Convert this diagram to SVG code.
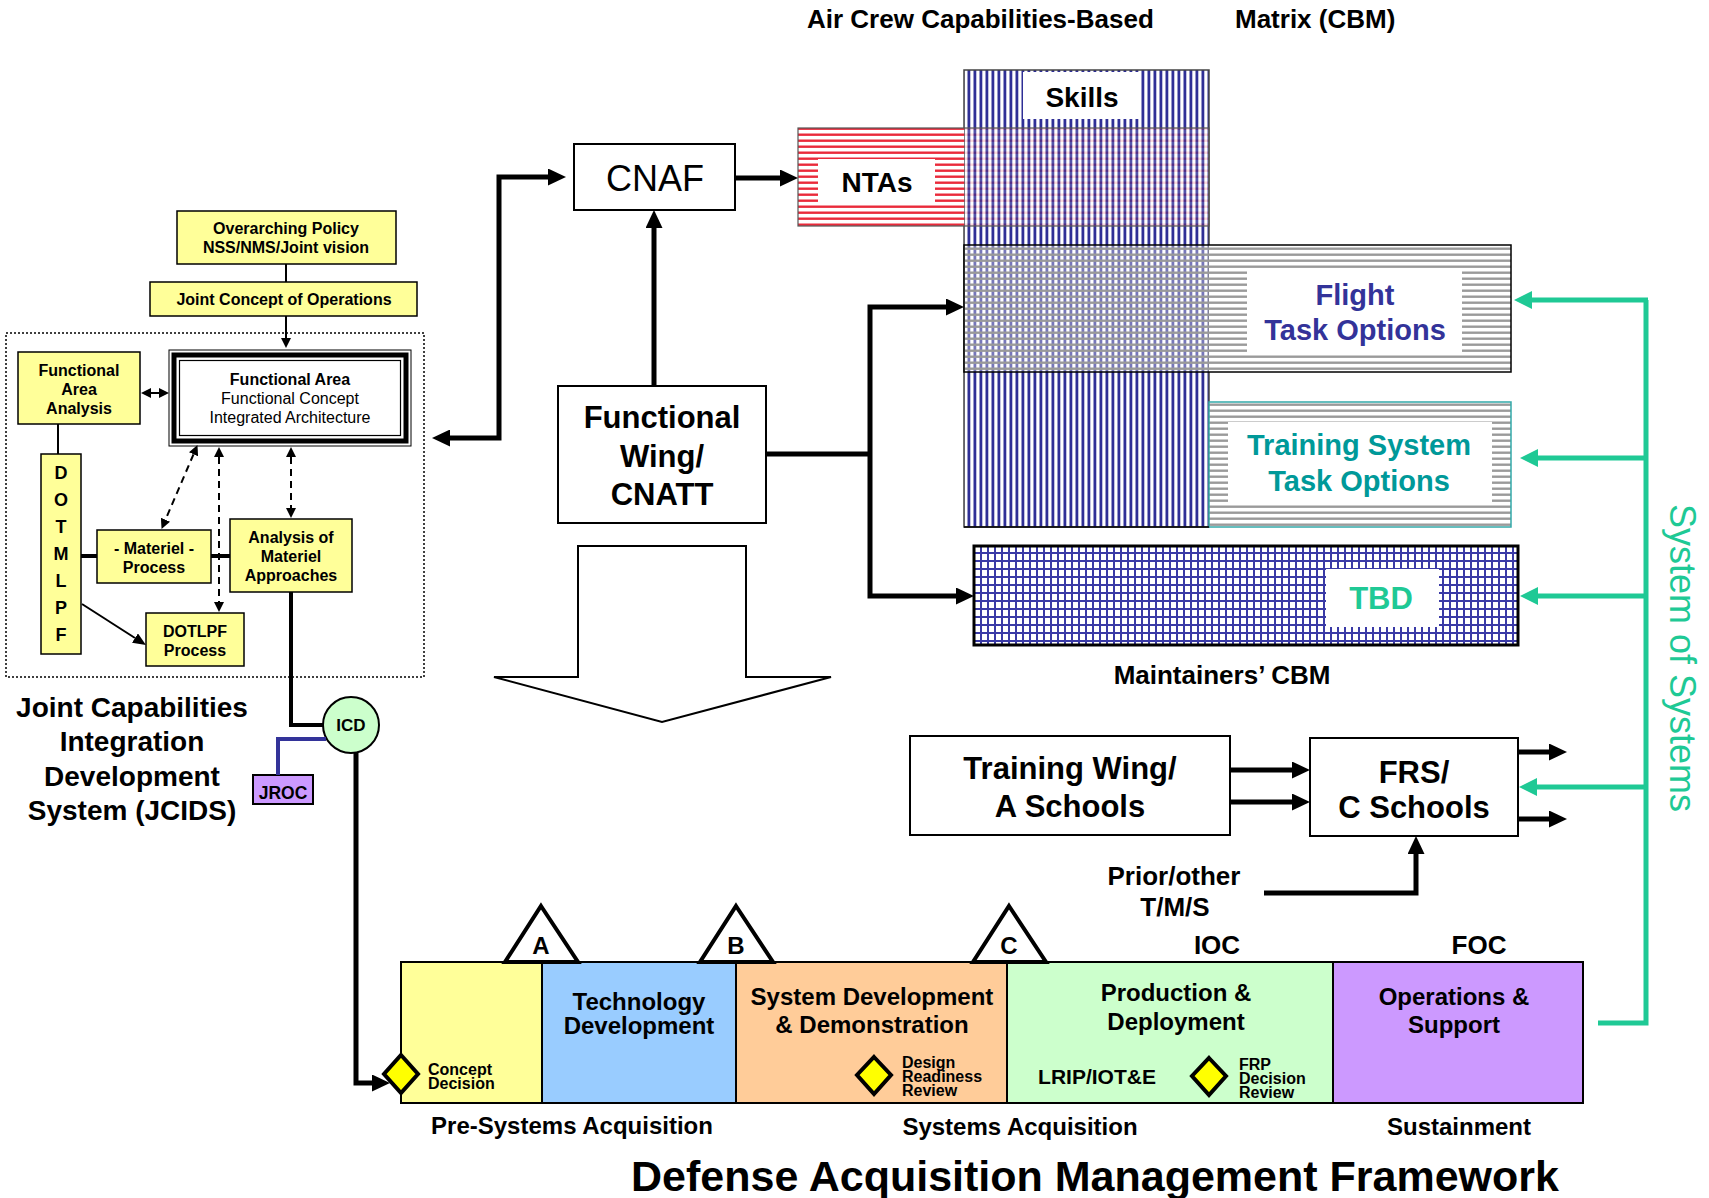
<svg xmlns="http://www.w3.org/2000/svg" width="1709" height="1198" viewBox="0 0 1709 1198">
<defs>
<style>
text { font-family: "Liberation Sans", Arial, Helvetica, sans-serif; fill: #000; }
.b { font-weight: bold; }
.c { text-anchor: middle; }
.box { fill: #ffff99; stroke: #000; stroke-width: 1.5; }
.wbox { fill: #fff; stroke: #000; stroke-width: 2; }
.thick { fill: none; stroke: #000; stroke-width: 5; }
.mid { fill: none; stroke: #000; stroke-width: 4; }
.thin { fill: none; stroke: #000; stroke-width: 2; }
.dash { fill: none; stroke: #000; stroke-width: 2; stroke-dasharray: 7 5; }
.green { fill: none; stroke: #1fc995; stroke-width: 5; }
.seg { stroke: #000; stroke-width: 2; }
.ms { fill: #fff; stroke: #000; stroke-width: 4; stroke-linejoin: miter; }
.dia { fill: #ffff00; stroke: #000; stroke-width: 4; }
</style>
<pattern id="pRed" width="6" height="6" patternUnits="userSpaceOnUse">
  <rect width="6" height="6" fill="#fff"/>
  <rect y="1.5" width="6" height="2.4" fill="#ea2a3a"/>
</pattern>
<pattern id="pBlueV" width="6" height="6" patternUnits="userSpaceOnUse">
  <rect x="1.5" width="2.8" height="6" fill="#2f2f96"/>
</pattern>
<pattern id="pGray" width="6" height="6" patternUnits="userSpaceOnUse">
  <rect y="1.5" width="6" height="2.4" fill="#9a9a9a"/>
</pattern>
<pattern id="pGrid" width="7" height="8" patternUnits="userSpaceOnUse">
  <rect width="7" height="8" fill="#fff"/>
  <rect width="2" height="8" fill="#3a3aa6"/>
  <rect width="7" height="2" fill="#3a3aa6"/>
</pattern>
<marker id="ah" markerWidth="18" markerHeight="17" refX="0" refY="8.5" orient="auto-start-reverse" markerUnits="userSpaceOnUse">
  <path d="M0,0 L18,8.5 L0,17 z" fill="#000"/>
</marker>
<marker id="ahG" markerWidth="18" markerHeight="18" refX="0" refY="9" orient="auto-start-reverse" markerUnits="userSpaceOnUse">
  <path d="M0,0 L18,9 L0,18 z" fill="#1fc995"/>
</marker>
<marker id="ahS" markerWidth="10" markerHeight="10" refX="0" refY="5" orient="auto-start-reverse" markerUnits="userSpaceOnUse">
  <path d="M0,0 L10,5 L0,10 z" fill="#000"/>
</marker>
<marker id="ahM" markerWidth="13" markerHeight="11" refX="0" refY="5.5" orient="auto-start-reverse" markerUnits="userSpaceOnUse">
  <path d="M0,0 L13,5.5 L0,11 z" fill="#000"/>
</marker>
</defs>

<rect width="1709" height="1198" fill="#fff"/>

<!-- heading over the air crew matrix -->
<text class="b" x="807" y="28" font-size="26">Air Crew Capabilities-Based</text>
<text class="b" x="1235" y="28" font-size="26">Matrix (CBM)</text>

<!-- JCIDS area -->
<g id="jcids-frame">
  <rect x="6" y="333" width="418" height="344" fill="none" stroke="#000" stroke-width="1.5" stroke-dasharray="2 2"/>
</g>
<g id="overarching-policy">
  <rect class="box" x="177" y="211" width="219" height="53"/>
  <text class="b c" x="286" y="234" font-size="16">Overarching Policy</text>
  <text class="b c" x="286" y="253" font-size="16">NSS/NMS/Joint vision</text>
</g>
<g id="joint-concept">
  <rect class="box" x="150" y="282" width="267" height="34"/>
  <text class="b c" x="284" y="305" font-size="16">Joint Concept of Operations</text>
</g>
<g id="functional-area">
  <rect x="169" y="350" width="242" height="96" fill="#fff" stroke="#000" stroke-width="1"/>
  <rect x="174" y="355" width="232" height="86" fill="none" stroke="#000" stroke-width="5"/>
  <rect x="179.5" y="360.5" width="221" height="75" fill="none" stroke="#000" stroke-width="1.2"/>
  <text class="b c" x="290" y="385" font-size="16">Functional Area</text>
  <text class="c" x="290" y="404" font-size="16">Functional Concept</text>
  <text class="c" x="290" y="423" font-size="16">Integrated Architecture</text>
</g>
<g id="functional-area-analysis">
  <rect class="box" x="18" y="352" width="122" height="72"/>
  <text class="b c" x="79" y="376" font-size="16">Functional</text>
  <text class="b c" x="79" y="395" font-size="16">Area</text>
  <text class="b c" x="79" y="414" font-size="16">Analysis</text>
</g>
<g id="dotmlpf">
  <rect class="box" x="41" y="454" width="40" height="200"/>
  <text class="b c" x="61" y="479" font-size="18">D</text>
  <text class="b c" x="61" y="506" font-size="18">O</text>
  <text class="b c" x="61" y="533" font-size="18">T</text>
  <text class="b c" x="61" y="560" font-size="18">M</text>
  <text class="b c" x="61" y="587" font-size="18">L</text>
  <text class="b c" x="61" y="614" font-size="18">P</text>
  <text class="b c" x="61" y="641" font-size="18">F</text>
</g>
<g id="materiel-process">
  <rect class="box" x="97" y="530" width="114" height="53"/>
  <text class="b c" x="154" y="554" font-size="16">- Materiel -</text>
  <text class="b c" x="154" y="573" font-size="16">Process</text>
</g>
<g id="analysis-materiel">
  <rect class="box" x="230" y="519" width="122" height="73"/>
  <text class="b c" x="291" y="543" font-size="16">Analysis of</text>
  <text class="b c" x="291" y="562" font-size="16">Materiel</text>
  <text class="b c" x="291" y="581" font-size="16">Approaches</text>
</g>
<g id="dotlpf-process">
  <rect class="box" x="146" y="613" width="98" height="53"/>
  <text class="b c" x="195" y="637" font-size="16">DOTLPF</text>
  <text class="b c" x="195" y="656" font-size="16">Process</text>
</g>
<g id="jcids-title">
  <text class="b c" x="132" y="717" font-size="28">Joint Capabilities</text>
  <text class="b c" x="132" y="751" font-size="28">Integration</text>
  <text class="b c" x="132" y="786" font-size="28">Development</text>
  <text class="b c" x="132" y="820" font-size="28">System (JCIDS)</text>
</g>
<g id="icd">
  <circle cx="351" cy="725" r="28" fill="#ccffcc" stroke="#000" stroke-width="2"/>
  <text class="b c" x="351" y="731" font-size="17">ICD</text>
</g>
<g id="jroc">
  <rect x="253" y="775" width="60" height="29" fill="#cc99ff" stroke="#000" stroke-width="2"/>
  <text class="b c" x="283" y="799" font-size="17.5">JROC</text>
</g>

<!-- command boxes -->
<g id="cnaf">
  <rect class="wbox" x="574" y="144" width="161" height="66"/>
  <text class="c" x="655" y="191" font-size="36">CNAF</text>
</g>
<g id="functional-wing">
  <rect class="wbox" x="558" y="386" width="208" height="137"/>
  <text class="b c" x="662" y="428" font-size="31">Functional</text>
  <text class="b c" x="662" y="467" font-size="31">Wing/</text>
  <text class="b c" x="662" y="505" font-size="31">CNATT</text>
</g>
<g id="flow-arrow">
  <polygon points="578,546 746,546 746,677 831,677 662,722 494,677 578,677" fill="#fff" stroke="#000" stroke-width="2"/>
</g>

<!-- capabilities-based matrix -->
<g id="skills">
  <rect x="964" y="70" width="245" height="457" fill="#fff"/>
  <rect x="964" y="70" width="245" height="457" fill="url(#pBlueV)" stroke="#444" stroke-width="1.5"/>
</g>
<g id="ntas">
  <rect x="798" y="128" width="166" height="98" fill="url(#pRed)"/>
  <rect x="964" y="128" width="245" height="98" fill="url(#pRed)" opacity="0.18"/>
  <rect x="798" y="128" width="411" height="98" fill="none" stroke="#555" stroke-width="1.2"/>
  <rect x="818" y="159" width="117" height="44" fill="#fff"/>
  <text class="b c" x="877" y="192" font-size="28">NTAs</text>
</g>
<g id="skills-label">
  <rect x="1023" y="72" width="117" height="47" fill="#fff"/>
  <text class="b c" x="1082" y="107" font-size="28">Skills</text>
</g>
<g id="flight-task-options">
  <rect x="1209" y="245" width="302" height="127" fill="#fff"/>
  <rect x="964" y="245" width="245" height="127" fill="#fff" opacity="0.35"/>
  <rect x="964" y="245" width="547" height="127" fill="url(#pGray)" stroke="#000" stroke-width="1.5"/>
  <rect x="1247" y="271" width="215" height="82" fill="#fff"/>
  <text class="b c" x="1355" y="305" font-size="29" style="fill:#333399">Flight</text>
  <text class="b c" x="1355" y="340" font-size="29" style="fill:#333399">Task Options</text>
</g>
<g id="training-system-task-options">
  <rect x="1209" y="402" width="302" height="125" fill="#fff"/>
  <rect x="1209" y="402" width="302" height="125" fill="url(#pGray)" stroke="#33a9a9" stroke-width="1.5"/>
  <rect x="1228" y="422" width="264" height="80" fill="#fff"/>
  <text class="b c" x="1359" y="455" font-size="29" style="fill:#009999">Training System</text>
  <text class="b c" x="1359" y="491" font-size="29" style="fill:#009999">Task Options</text>
  <line x1="964" y1="527" x2="1209" y2="527" stroke="#000" stroke-width="1.5"/>
</g>
<g id="tbd">
  <rect x="974" y="546" width="544" height="99" fill="url(#pGrid)" stroke="#000" stroke-width="3"/>
  <rect x="1326" y="569" width="113" height="58" fill="#fff"/>
  <text class="b c" x="1381" y="609" font-size="31" style="fill:#1fc995">TBD</text>
</g>
<text class="b c" x="1222" y="684" font-size="26">Maintainers’ CBM</text>

<!-- schools -->
<g id="training-wing">
  <rect class="wbox" x="910" y="736" width="320" height="99"/>
  <text class="b c" x="1070" y="779" font-size="31">Training Wing/</text>
  <text class="b c" x="1070" y="817" font-size="31">A Schools</text>
</g>
<g id="frs">
  <rect class="wbox" x="1310" y="738" width="208" height="98"/>
  <text class="b c" x="1414" y="783" font-size="31">FRS/</text>
  <text class="b c" x="1414" y="818" font-size="31">C Schools</text>
</g>
<g id="prior-tms">
  <text class="b c" x="1174" y="885" font-size="26">Prior/other</text>
  <text class="b c" x="1175" y="916" font-size="26">T/M/S</text>
</g>

<!-- system of systems label -->
<text class="c" transform="translate(1683,658) rotate(90)" x="0" y="13" font-size="36" style="fill:#1fc995">System of Systems</text>

<!-- defense acquisition management framework -->
<g id="phase-concept">
  <rect class="seg" x="401" y="962" width="141" height="141" fill="#ffff99"/>
  <text class="b" x="428" y="1075" font-size="16">Concept</text>
  <text class="b" x="428" y="1089" font-size="16">Decision</text>
</g>
<g id="phase-technology">
  <rect class="seg" x="542" y="962" width="194" height="141" fill="#99ccff"/>
  <text class="b c" x="639" y="1010" font-size="24">Technology</text>
  <text class="b c" x="639" y="1034" font-size="24">Development</text>
</g>
<g id="phase-sdd">
  <rect class="seg" x="736" y="962" width="271" height="141" fill="#ffcc99"/>
  <text class="b c" x="872" y="1005" font-size="24">System Development</text>
  <text class="b c" x="872" y="1033" font-size="24">&amp; Demonstration</text>
  <polygon class="dia" points="874,1057 891,1075 874,1094 857,1075"/>
  <text class="b" x="902" y="1068" font-size="16">Design</text>
  <text class="b" x="902" y="1082" font-size="16">Readiness</text>
  <text class="b" x="902" y="1096" font-size="16">Review</text>
</g>
<g id="phase-production">
  <rect class="seg" x="1007" y="962" width="326" height="141" fill="#ccffcc"/>
  <text class="b c" x="1176" y="1001" font-size="24">Production &amp;</text>
  <text class="b c" x="1176" y="1030" font-size="24">Deployment</text>
  <text class="b c" x="1097" y="1084" font-size="21">LRIP/IOT&amp;E</text>
  <polygon class="dia" points="1209,1058 1226,1076 1209,1095 1192,1076"/>
  <text class="b" x="1239" y="1070" font-size="16">FRP</text>
  <text class="b" x="1239" y="1084" font-size="16">Decision</text>
  <text class="b" x="1239" y="1098" font-size="16">Review</text>
</g>
<g id="phase-operations">
  <rect class="seg" x="1333" y="962" width="250" height="141" fill="#cc99ff"/>
  <text class="b c" x="1454" y="1005" font-size="24">Operations &amp;</text>
  <text class="b c" x="1454" y="1033" font-size="24">Support</text>
</g>
<g id="milestone-a">
  <polygon class="ms" points="541,906 578,962 505,962"/>
  <text class="b c" x="541" y="954" font-size="24">A</text>
</g>
<g id="milestone-b">
  <polygon class="ms" points="736,906 773,962 700,962"/>
  <text class="b c" x="736" y="954" font-size="24">B</text>
</g>
<g id="milestone-c">
  <polygon class="ms" points="1009,906 1046,962 973,962"/>
  <text class="b c" x="1009" y="954" font-size="24">C</text>
</g>
<g id="concept-decision-point">
  <polygon class="dia" points="401,1055 418,1074 401,1093 384,1074"/>
</g>
<text class="b c" x="1217" y="954" font-size="26">IOC</text>
<text class="b c" x="1479" y="954" font-size="26">FOC</text>
<text class="b c" x="572" y="1134" font-size="24">Pre-Systems Acquisition</text>
<text class="b c" x="1020" y="1135" font-size="24">Systems Acquisition</text>
<text class="b c" x="1459" y="1135" font-size="24">Sustainment</text>
<text class="b c" x="1095" y="1191" font-size="43">Defense Acquisition Management Framework</text>

<!-- connectors -->
<g id="connectors">
  <!-- JCIDS internals -->
  <path class="thin" d="M286,264 V282"/>
  <path class="thin" d="M286,316 V338" marker-end="url(#ahS)"/>
  <path class="thin" d="M151,393 H159" stroke-width="1.5" marker-start="url(#ahS)" marker-end="url(#ahS)"/>
  <path class="thin" d="M58,424 V454"/>
  <path class="mid" d="M81,556 H97"/>
  <path class="mid" d="M211,556 H230"/>
  <path class="thin" d="M82,604 L135,638" marker-end="url(#ahM)"/>
  <path class="dash" d="M193.5,454.3 L165.5,519.7" marker-start="url(#ahS)" marker-end="url(#ahS)"/>
  <path class="dash" d="M219,457 V602" marker-start="url(#ahS)" marker-end="url(#ahS)"/>
  <path class="dash" d="M291,457 V508" marker-start="url(#ahS)" marker-end="url(#ahS)"/>
  <path class="mid" d="M291,592 V725 H323"/>
  <path d="M278,775 V739 H326" fill="none" stroke="#333399" stroke-width="4"/>
  <path class="thick" d="M356,753 V1083 H372" marker-end="url(#ah)"/>
  <!-- command flow -->
  <path class="thick" d="M450,438 H499 V177 H548" marker-start="url(#ah)" marker-end="url(#ah)"/>
  <path class="thick" d="M654,386 V228" marker-end="url(#ah)"/>
  <path class="thick" d="M735,178 H780" marker-end="url(#ah)"/>
  <path class="thick" d="M766,454 H870"/>
  <path class="thick" d="M870,454 V307 H946" marker-end="url(#ah)"/>
  <path class="thick" d="M870,454 V596 H956" marker-end="url(#ah)"/>
  <!-- schools -->
  <path class="thick" d="M1230,770 H1292" marker-end="url(#ah)"/>
  <path class="thick" d="M1230,802 H1292" marker-end="url(#ah)"/>
  <path class="thick" d="M1518,752 H1549" marker-end="url(#ah)"/>
  <path class="thick" d="M1518,819 H1549" marker-end="url(#ah)"/>
  <path class="thick" d="M1264,893 H1416 V854" marker-end="url(#ah)"/>
  <!-- system of systems feedback -->
  <path class="green" d="M1598,1023 H1646 V300"/>
  <path class="green" d="M1648,300 H1532" marker-end="url(#ahG)"/>
  <path class="green" d="M1646,458 H1538" marker-end="url(#ahG)"/>
  <path class="green" d="M1646,596 H1538" marker-end="url(#ahG)"/>
  <path class="green" d="M1646,787 H1537" marker-end="url(#ahG)"/>
</g>
</svg>
